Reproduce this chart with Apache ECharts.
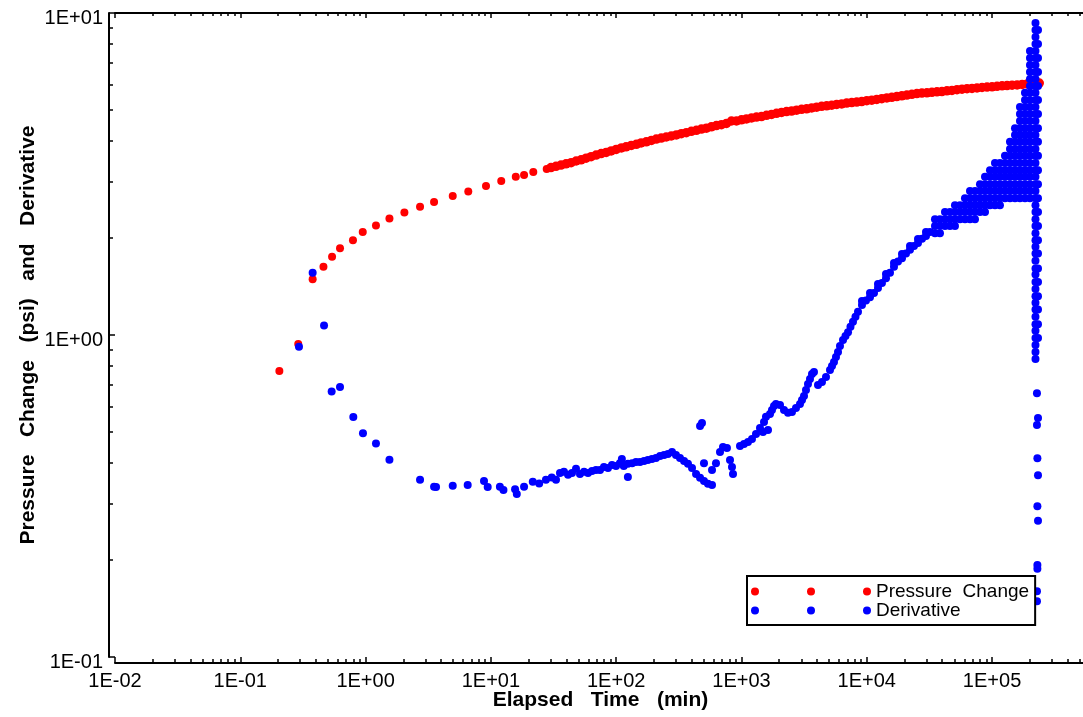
<!DOCTYPE html>
<html><head><meta charset="utf-8">
<script src="https://cdn.jsdelivr.net/npm/echarts@6/dist/echarts.min.js"></script>
<style>html,body{margin:0;padding:0;background:#fff}#chart{width:1083px;height:717px}</style>
</head><body><div id="chart"></div>
<script>
// ---- axis ticks ----
const xTickValues = [0.01, 0.1, 1, 10, 100, 1000, 10000, 100000];
const xTickLabels = ['1E-02', '1E-01', '1E+00', '1E+01', '1E+02', '1E+03', '1E+04', '1E+05'];
const yTickValues = [0.1, 1, 10];
const yTickLabels = ['1E-01', '1E+00', '1E+01'];
const minorMultipliers = [2, 3, 4, 5, 6, 7, 8, 9];

// ---- Pressure Change (red) ----
const pressureEarly = [
  [0.205,0.773],[0.290,0.937],[0.378,1.49],[0.461,1.63],[0.540,1.75],[0.625,1.86],[0.793,1.97],
  [0.949,2.09],[1.21,2.19],[1.55,2.30],[2.04,2.40],[2.72,2.50],[3.52,2.59],[4.96,2.70],[6.60,2.79],
  [9.14,2.90],[12.1,3.01],[15.8,3.10],[18.4,3.14],[21.8,3.21],[27.9,3.28]
];
const pressureTime = [
  30.2,33.1,36.3,39.8,43.7,47.9,52.5,57.5,63.1,69.2,
  75.9,83.2,91.2,100,110,120,132,145,158,174,
  191,209,229,251,275,302,331,363,398,437,
  479,525,575,631,692,759,832,912,1000,1096,
  1202,1318,1445,1585,1738,1905,2089,2291,2512,2754,
  3020,3311,3631,3981,4365,4786,5248,5754,6310,6918,
  7586,8318,9120,10000,10960,12020,13180,14450,15850,17380,
  19050,20890,22910,25120,27540,30200,33110,36310,39810,43650,
  47860,52480,57540,63100,69180,75860,83180,91200,100000,109600,
  120200,131800,144500,158500,173800,190500,208900,229100,238000
];
const pressureValue = [
  3.31,3.34,3.37,3.40,3.43,3.47,3.50,3.54,3.58,3.62,
  3.66,3.69,3.73,3.77,3.81,3.84,3.88,3.91,3.95,3.98,
  4.02,4.06,4.09,4.12,4.15,4.18,4.22,4.25,4.29,4.32,
  4.36,4.39,4.43,4.47,4.50,4.54,4.62,4.62,4.66,4.69,
  4.72,4.75,4.77,4.81,4.84,4.88,4.91,4.94,4.96,4.99,
  5.02,5.04,5.07,5.10,5.13,5.15,5.17,5.20,5.22,5.25,
  5.27,5.29,5.31,5.34,5.36,5.39,5.42,5.45,5.47,5.50,
  5.53,5.56,5.59,5.62,5.64,5.65,5.67,5.69,5.70,5.73,
  5.75,5.78,5.80,5.82,5.83,5.85,5.87,5.89,5.90,5.92,
  5.94,5.95,5.97,5.98,6.00,6.02,6.03,6.05,6.06
];

// ---- Derivative (blue) ----
const derivativeEarly = [
  [0.294,0.920],[0.378,1.56],[0.466,1.07],[0.536,0.668],[0.625,0.690],[0.798,0.556],[0.953,0.495],
  [1.21,0.460],[1.55,0.410],[2.72,0.355],[3.52,0.338],[3.65,0.337],[4.96,0.340],[6.53,0.342],
  [8.81,0.352],[9.43,0.337],[11.8,0.338],[12.6,0.330],[15.6,0.332],[16.1,0.321],[18.4,0.338],
  [21.6,0.350],[24.3,0.346],[27.5,0.355],[30.6,0.361]
];
const derivativeTrend = [
  [33.1,0.355],[35.6,0.373],[38.3,0.376],[41.3,0.368],[44.4,0.373],[47.8,0.384],[51.4,0.370],
  [55.4,0.376],[59.6,0.373],[64.1,0.378],[69.0,0.381],[74.3,0.381],[79.9,0.389],[86.0,0.386],
  [92.6,0.395],[99.7,0.392],[107,0.400],[111,0.412],[115,0.392],[124,0.362],[124,0.398],
  [134,0.400],[144,0.403],[155,0.403],[167,0.406],[179,0.409],[193,0.412],[208,0.415],
  [224,0.421],[241,0.424],[259,0.427],[279,0.433],[300,0.424],[323,0.415],[348,0.406],
  [374,0.398],[403,0.386],[434,0.370],[467,0.360],[467,0.522],[484,0.533],[502,0.352],
  [502,0.400],[540,0.345],[582,0.342],[582,0.381],[626,0.400],[674,0.433],[712,0.449],
  [766,0.446],[810,0.409],[840,0.389],[856,0.370],[973,0.452],[1047,0.459],[1127,0.465],
  [1213,0.475],[1306,0.493],[1405,0.514],[1485,0.500],[1513,0.537],[1569,0.557],[1628,0.507],
  [1689,0.568],[1752,0.585],[1818,0.602],[1885,0.611],[2030,0.606],[2184,0.585],[2351,0.573],
  [2530,0.577],[2723,0.593],[2931,0.611],[3041,0.628],[3155,0.646],[3272,0.675],[3395,0.705],
  [3522,0.730],[3654,0.757],[3791,0.768],[4080,0.700],[4391,0.715],[4726,0.740],[5086,0.779],
  [5278,0.801],[5474,0.825],[5679,0.855],[5893,0.886],[6113,0.924],[6462,0.965],[6763,0.993],
  [7084,1.02],[7413,1.06],[7762,1.10],[8126,1.14],[8511,1.18],[9158,1.24],[9856,1.28],
  [10610,1.31],[11420,1.35],[12290,1.40],[13220,1.45],[14240,1.50],[15320,1.56],[16490,1.63],
  [17750,1.69],[19100,1.73],[20560,1.79],[22130,1.84],[23810,1.89],[25630,1.93],[27590,1.99],
  [29690,2.03],[31950,2.09]
];
const derivativeTrendUpper = [
  [9158,1.275],[10610,1.35],[12290,1.44],[14240,1.547],[16490,1.673],[19100,1.785],
  [22130,1.89],[25630,1.987],[29690,2.089]
];
const derivativeCloudTime = [35030,38390,42090,46140,50580,55450,60790,66650,73070,80100,
  87810,96250,105500,115600,126800,139000,152400,167000,183100,200700];
const derivativeCloudValues = [
  [2.29,2.18,2.07],
  [2.29,2.18,2.07],
  [2.41,2.29,2.18],
  [2.41,2.29,2.18],
  [2.53,2.41,2.29,2.18],
  [2.53,2.41,2.29],
  [2.66,2.53,2.41,2.29],
  [2.80,2.66,2.53,2.41,2.29],
  [2.80,2.66,2.53,2.41,2.29],
  [2.94,2.80,2.66,2.53,2.41],
  [3.10,2.94,2.80,2.66,2.53,2.41],
  [3.25,3.10,2.94,2.80,2.66,2.53],
  [3.42,3.25,3.10,2.94,2.80,2.66,2.53],
  [3.42,3.25,3.10,2.94,2.80,2.66,2.53],
  [3.60,3.42,3.25,3.10,2.94,2.80,2.66],
  [3.98,3.78,3.60,3.42,3.25,3.10,2.94,2.80,2.66],
  [4.39,4.18,3.98,3.78,3.60,3.42,3.25,3.10,2.94,2.80,2.66],
  [5.11,4.86,4.62,4.39,4.18,3.98,3.78,3.60,3.42,3.25,3.10,2.94,2.80,2.66],
  [5.65,5.37,5.11,4.86,4.62,4.39,4.18,3.98,3.78,3.60,3.42,3.25,3.10,2.94,2.80,2.66],
  [7.62,7.25,6.89,6.56,6.24,5.93,5.65,5.37,5.11,4.86,4.62,4.39,4.18,3.98,3.78,3.60,3.42,3.25,3.10,2.94,2.80,2.66]
];
const derivativeSpikeTime = [222100, 232600];
const derivativeSpikeValues = [
  [9.31,8.85,8.42,8.01,7.62,7.25,6.89,6.56,6.24,5.93,5.65,5.37,5.11,4.86,4.62,4.39,4.18,3.98,3.78,3.60,
   3.42,3.25,3.10,2.94,2.80,2.66,2.53,2.41,2.29,2.18,2.07,1.97,1.88,1.79,1.70,1.61,1.54,1.46,1.39,1.32,
   1.26,1.20,1.14,1.08,1.03,0.979,0.931,0.886,0.842],
  [8.85,8.01,7.25,6.56,5.93,5.37,4.86,4.39,3.98,3.60,3.25,2.94,2.66,2.41,2.18,1.97,1.79,1.61,1.46,1.32,
   1.20,1.08,0.979]
];
const derivativeTail = [
  [228200,0.659],[232600,0.552],[228200,0.525],[230000,0.414],[232600,0.367],[230000,0.294],
  [232600,0.265],[230000,0.193],[230000,0.188],[228200,0.160],[228200,0.149]
];

// ---- build series data ----
const pressureData = pressureEarly.concat(pressureTime.map((t, i) => [t, pressureValue[i]]));
const derivativeData = derivativeEarly.concat(derivativeTrend, derivativeTrendUpper);
derivativeCloudTime.forEach((t, i) => derivativeCloudValues[i].forEach(v => derivativeData.push([t, v])));
derivativeSpikeTime.forEach((t, i) => derivativeSpikeValues[i].forEach(v => derivativeData.push([t, v])));
derivativeTail.forEach(p => derivativeData.push(p));

const xMinorTicks = [];
xTickValues.forEach(d => minorMultipliers.forEach(m => xMinorTicks.push(m * d)));
const yMinorTicks = [];
yTickValues.slice(0, -1).forEach(d => minorMultipliers.forEach(m => yMinorTicks.push(m * d)));

const FONT = '"Liberation Sans", Arial, Helvetica, sans-serif';
const X_MIN = 0.01, X_MAX = 562000, Y_MIN = 0.1, Y_MAX = 10;

function labelFor(v, vals, labels) {
  const i = vals.findIndex(t => Math.abs(Math.log10(t) - Math.log10(v)) < 1e-6);
  return i >= 0 ? labels[i] : '';
}
const black = { color: '#000', width: 2 };
const off = { show: false };

function logAxis(grid, pos, min, max, lineShow, tickVals, tickLen) {
  return {
    type: 'log', gridIndex: grid, position: pos, min: min, max: max,
    axisLine: { show: lineShow, onZero: false, lineStyle: black },
    axisTick: { show: true, inside: true, length: tickLen, lineStyle: { color: '#000', width: 1.5 },
                customValues: tickVals },
    axisLabel: { show: false },
    splitLine: off, minorTick: off, minorSplitLine: off
  };
}
function hiddenAxis(grid) {
  return { type: 'value', gridIndex: grid, min: 0, max: 1, show: false,
           axisLine: off, axisTick: off, axisLabel: off, splitLine: off };
}

// grid 0: plotting area + top frame; grid 1: bottom axis (6px lower); grid 2: left axis (6px further left)
const xTop = logAxis(0, 'top', X_MIN, X_MAX, true, xTickValues, 5);
const xTopMinor = logAxis(0, 'top', X_MIN, X_MAX, false, xMinorTicks, 3);
const xBottom = logAxis(1, 'bottom', X_MIN, X_MAX, true, xTickValues, 6);
xBottom.axisLabel = { show: true, customValues: xTickValues, margin: 8,
  formatter: v => labelFor(v, xTickValues, xTickLabels),
  fontFamily: FONT, fontSize: 20, color: '#000' };
xBottom.name = 'Elapsed   Time   (min)';
xBottom.nameLocation = 'middle';
xBottom.nameGap = 27;
xBottom.nameMoveOverlap = false;
xBottom.nameTextStyle = { fontFamily: FONT, fontSize: 21, fontWeight: 'bold', color: '#000' };
const xBottomMinor = logAxis(1, 'bottom', X_MIN, X_MAX, false, xMinorTicks, 4);

const yPlot = logAxis(0, 'left', Y_MIN, Y_MAX, false, yTickValues, 6);
yPlot.show = false;
const yLeft = logAxis(2, 'left', Y_MIN, Y_MAX, true, yTickValues, 6);
yLeft.axisLabel = { show: true, customValues: yTickValues, margin: 6, lineHeight: 10,
  formatter: v => '\n' + labelFor(v, yTickValues, yTickLabels),
  fontFamily: FONT, fontSize: 20, color: '#000' };
yLeft.name = 'Pressure   Change   (psi)   and   Derivative';
yLeft.nameLocation = 'middle';
yLeft.nameGap = 70;
yLeft.nameMoveOverlap = false;
yLeft.nameTextStyle = { fontFamily: FONT, fontSize: 21, fontWeight: 'bold', color: '#000' };
const yLeftMinor = logAxis(2, 'left', Y_MIN, Y_MAX, false, yMinorTicks, 4);

const threeDots = 'path://M0,4A4,4,0,1,0,8,4A4,4,0,1,0,0,4ZM56,4A4,4,0,1,0,64,4A4,4,0,1,0,56,4ZM112,4A4,4,0,1,0,120,4A4,4,0,1,0,112,4Z';

const gridBase = { width: 971, height: 644, containLabel: false, outerBoundsMode: 'none' };
const chart = echarts.init(document.getElementById('chart'), null, { renderer: 'canvas' });
chart.setOption({
  animation: false,
  backgroundColor: '#fff',
  grid: [
    Object.assign({ left: 115, top: 13 }, gridBase),
    Object.assign({ left: 115, top: 19 }, gridBase),
    Object.assign({ left: 109, top: 13 }, gridBase)
  ],
  xAxis: [xTop, xTopMinor, xBottom, xBottomMinor, hiddenAxis(2)],
  yAxis: [yPlot, hiddenAxis(1), yLeft, yLeftMinor],
  legend: {
    left: 747, top: 576, orient: 'vertical',
    itemWidth: 120, itemHeight: 8, itemGap: 0,
    padding: [6, 6, 5, 4],
    borderColor: '#000', borderWidth: 2, backgroundColor: '#fff',
    icon: threeDots,
    textStyle: { fontFamily: FONT, fontSize: 19, color: '#000', lineHeight: 18 },
    data: ['Pressure  Change', 'Derivative']
  },
  series: [
    { name: 'Pressure  Change', type: 'scatter', xAxisIndex: 0, yAxisIndex: 0,
      symbol: 'circle', symbolSize: (v, p) => (p.dataIndex >= pressureEarly.length ? 9.5 : 8),
      itemStyle: { color: '#ff0000', opacity: 1 }, data: pressureData, silent: true },
    { name: 'Derivative', type: 'scatter', xAxisIndex: 0, yAxisIndex: 0,
      symbol: 'circle', symbolSize: 8, itemStyle: { color: '#0000ff', opacity: 1 }, data: derivativeData, silent: true }
  ]
});
</script></body></html>
